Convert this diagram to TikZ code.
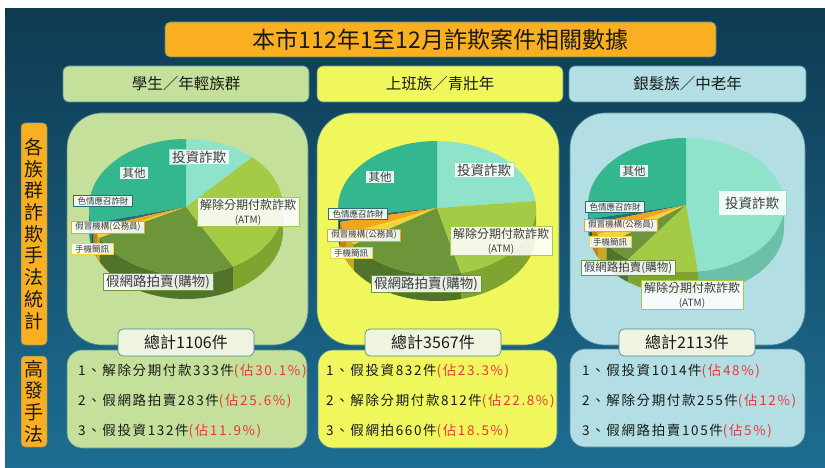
\documentclass[tikz,border=0pt]{standalone}
\usepackage{fontspec}
\setmainfont{Noto Sans CJK TC}
\newfontfamily\spacedcjk[LetterSpace=12]{Noto Sans CJK TC}
\definecolor{bgA}{HTML}{0F3B52}
\definecolor{bgB}{HTML}{1D6D92}
\definecolor{corange}{HTML}{F9AF1F}
\definecolor{cgreen}{HTML}{C5E09A}
\definecolor{cyellow}{HTML}{F0F75C}
\definecolor{cblue}{HTML}{B3DFE4}
\definecolor{totfill}{HTML}{EEF4E0}
\definecolor{bord}{HTML}{4F8C96}
\definecolor{pct}{HTML}{E8383D}
\definecolor{txt}{HTML}{1A1A1A}
\definecolor{cOther}{HTML}{34B78F}\definecolor{sOther}{HTML}{279274}
\definecolor{cInv}{HTML}{8FE3CA}\definecolor{sInv}{HTML}{6CC0A8}
\definecolor{cAtm}{HTML}{A4CB46}\definecolor{sAtm}{HTML}{7FA42F}
\definecolor{cAuc}{HTML}{6D9539}\definecolor{sAuc}{HTML}{52742A}
\definecolor{cSms}{HTML}{F3D43C}\definecolor{sSms}{HTML}{C9AA25}
\definecolor{cImp}{HTML}{F1A51E}\definecolor{sImp}{HTML}{C38214}
\definecolor{cSex}{HTML}{2A6D73}\definecolor{sSex}{HTML}{1C5057}
\newcommand\pside[3]{\fill[#3] ({#1}:{\prx} and {\pry}) arc[start angle=#1,end angle=#2,x radius=\prx,y radius=\pry] -- ++(0,-\pd) arc[start angle=#2,end angle=#1,x radius=\prx,y radius=\pry] -- cycle;}
\newcommand\ptop[3]{\fill[#3] (0,0) -- ({#1}:{\prx} and {\pry}) arc[start angle=#1,end angle=#2,x radius=\prx,y radius=\pry] -- cycle;}
\begin{document}
\begin{tikzpicture}[x=1pt,y=-1pt,
  ttl/.style={fill=corange, draw=bord, line width=0.6pt, rounded corners=5pt, font=\fontsize{23}{26}\selectfont, text=txt},
  hdr/.style={draw=bord, line width=0.6pt, rounded corners=6pt, font=\fontsize{15.5}{18}\selectfont, text=txt, minimum height=36pt},
  pbox/.style={draw=bord, line width=0.6pt, rounded corners=35pt, minimum height=232pt},
  bbox/.style={draw=bord, line width=0.6pt, rounded corners=15pt, minimum height=98pt},
  tbox/.style={fill=totfill, draw=bord, line width=0.7pt, rounded corners=5pt, font=\fontsize{16}{18}\selectfont, text=txt, minimum width=136pt, minimum height=27pt},
  vbox/.style={fill=corange, draw=bord, line width=0.5pt, rounded corners=4pt, minimum width=26pt},
  vtxt/.style={font=\fontsize{19}{21.7}\selectfont, align=center, text=txt},
  btxt/.style={anchor=west, font=\spacedcjk\fontsize{13.5}{16}\selectfont, text=txt, inner sep=0pt},
  plab/.style={fill=white, fill opacity=0.88, text opacity=1, draw=#1, line width=0.6pt, inner xsep=3pt, inner ysep=1.5pt, text=txt!85},
  big/.style={font=\fontsize{13.5}{16}\selectfont},
  mid/.style={font=\fontsize{11.5}{14}\selectfont},
  sml/.style={font=\fontsize{8.5}{10}\selectfont, inner xsep=4pt},
  atm/.style={font=\fontsize{12}{14}\selectfont, align=center}]
\useasboundingbox (0,0) rectangle (825,468);
\shade[top color=bgA, bottom color=bgB] (5,9) rectangle (825,468);
% title
\node[ttl, minimum width=551pt, minimum height=35pt] (title) at (440.5,39.5) {本市112年1至12月詐欺案件相關數據};
% headers
\node[hdr, fill=cgreen, minimum width=246pt] (hL) at (186,84) {學生／年輕族群};
\node[hdr, fill=cyellow, minimum width=246pt] (hM) at (440,84) {上班族／青壯年};
\node[hdr, fill=cblue, minimum width=237pt] (hR) at (687.5,84) {銀髮族／中老年};
% pie panels
\node[pbox, fill=cgreen, minimum width=241pt] (pL) at (187.5,229) {};
\node[pbox, fill=cyellow, minimum width=242pt] (pM) at (438,229) {};
\node[pbox, fill=cblue, minimum width=235pt] (pR) at (687.5,229) {};
% left pie
\begin{scope}[shift={(186,207)}, x=1pt, y=1pt]
\def\prx{97}\def\pry{68}\def\pd{24}
\pside{180}{194}{sOther}\pside{194}{198}{sSex}\pside{198}{204}{sImp}\pside{204}{207}{sSms}
\pside{207}{299}{sAuc}\pside{299}{360}{sAtm}
\ptop{47}{90}{cInv}\ptop{90}{194}{cOther}\ptop{194}{198}{cSex}\ptop{198}{204}{cImp}
\ptop{204}{207}{cSms}\ptop{207}{299}{cAuc}\ptop{299}{407}{cAtm}
\end{scope}
% middle pie
\begin{scope}[shift={(437,208)}, x=1pt, y=1pt]
\def\prx{99}\def\pry{67}\def\pd{26}
\pside{180}{188}{sOther}\pside{188}{192}{sSex}\pside{192}{203}{sImp}\pside{203}{213}{sSms}
\pside{213}{284}{sAuc}\pside{284}{360}{sAtm}
\ptop{6}{90}{cInv}\ptop{90}{188}{cOther}\ptop{188}{192}{cSex}\ptop{192}{203}{cImp}
\ptop{203}{213}{cSms}\ptop{213}{284}{cAuc}\ptop{284}{366}{cAtm}
\end{scope}
% right pie
\begin{scope}[shift={(686,205)}, x=1pt, y=1pt]
\def\prx{98}\def\pry{67}\def\pd{23}
\pside{180}{192}{sOther}\pside{192}{196}{sSex}\pside{196}{206}{sImp}\pside{206}{216}{sSms}
\pside{216}{234}{sAuc}\pside{234}{277}{sAtm}\pside{277}{360}{sInv}
\ptop{-83}{90}{cInv}\ptop{90}{192}{cOther}\ptop{192}{196}{cSex}\ptop{196}{206}{cImp}
\ptop{206}{216}{cSms}\ptop{216}{234}{cAuc}\ptop{234}{277}{cAtm}
\end{scope}
% left pie labels
\node[plab=cInv, big] (lInv) at (199,157) {投資詐欺};
\node[plab=cOther, mid] (lOth) at (134,173) {其他};
\node[plab=cAtm, atm] (lAtm) at (248,212) {解除分期付款詐欺\\{\fontsize{10}{12}\selectfont (ATM)}};
\node[plab=cAuc, big] (lAuc) at (158,282) {假網路拍賣(購物)};
\node[plab=cSex, sml] (lSex) at (103,201) {色情應召詐財};
\node[plab=cImp, sml] (lImp) at (108,227) {假冒機構(公務員)};
\node[plab=cSms, sml] (lSms) at (92,249) {手機簡訊};
% middle pie labels
\node[plab=cInv, big] (mInv) at (484,170) {投資詐欺};
\node[plab=cOther, mid] (mOth) at (380,177) {其他};
\node[plab=cAtm, atm] (mAtm) at (501,241) {解除分期付款詐欺\\{\fontsize{10}{12}\selectfont (ATM)}};
\node[plab=cAuc, big] (mAuc) at (426,284) {假網路拍賣(購物)};
\node[plab=cSex, sml] (mSex) at (358,214) {色情應召詐財};
\node[plab=cImp, sml] (mImp) at (364,235) {假冒機構(公務員)};
\node[plab=cSms, sml] (mSms) at (351,253) {手機簡訊};
% right pie labels
\node[plab=cOther, mid] (rOth) at (634,171) {其他};
\node[plab=cInv, big, inner xsep=7pt, inner ysep=6pt] (rInv) at (752,203) {投資詐欺};
\node[plab=cSex, sml] (rSex) at (615,207) {色情應召詐財};
\node[plab=cImp, sml] (rImp) at (621,225) {假冒機構(公務員)};
\node[plab=cSms, sml] (rSms) at (610,242) {手機簡訊};
\node[plab=cAuc, mid] (rAuc) at (628,268) {假網路拍賣(購物)};
\node[plab=cAtm, atm] (rAtm) at (692,295) {解除分期付款詐欺\\{\fontsize{10}{12}\selectfont (ATM)}};
% bottom panels
\node[bbox, fill=cgreen, minimum width=240pt] (bL) at (187,399) {};
\node[bbox, fill=cyellow, minimum width=239pt] (bM) at (437.5,399) {};
\node[bbox, fill=cblue, minimum width=235pt] (bR) at (687.5,398) {};
% totals
\node[tbox] (tL) at (186,342.5) {總計1106件};
\node[tbox] (tM) at (433,342.5) {總計3567件};
\node[tbox] (tR) at (687,342.5) {總計2113件};
% bottom texts
\node[btxt] (l1) at (78,371) {1、解除分期付款333件\textcolor{pct}{(佔30.1\%)}};
\node[btxt] (l2) at (78,401.5) {2、假網路拍賣283件\textcolor{pct}{(佔25.6\%)}};
\node[btxt] (l3) at (78,431) {3、假投資132件\textcolor{pct}{(佔11.9\%)}};
\node[btxt] (m1) at (326,371) {1、假投資832件\textcolor{pct}{(佔23.3\%)}};
\node[btxt] (m2) at (326,401.5) {2、解除分期付款812件\textcolor{pct}{(佔22.8\%)}};
\node[btxt] (m3) at (326,431) {3、假網拍660件\textcolor{pct}{(佔18.5\%)}};
\node[btxt] (r1) at (582,371) {1、假投資1014件\textcolor{pct}{(佔48\%)}};
\node[btxt] (r2) at (582,401.5) {2、解除分期付款255件\textcolor{pct}{(佔12\%)}};
\node[btxt] (r3) at (582,431) {3、假網路拍賣105件\textcolor{pct}{(佔5\%)}};
% vertical labels
\node[vbox, minimum height=222pt] (v1) at (34,234) {};
\node[vtxt] (v1t) at (v1) {各\\族\\群\\詐\\欺\\手\\法\\統\\計};
\node[vbox, minimum height=91pt] (v2) at (34,401.5) {};
\node[vtxt] (v2t) at (v2) {高\\發\\手\\法};
\end{tikzpicture}
\end{document}
